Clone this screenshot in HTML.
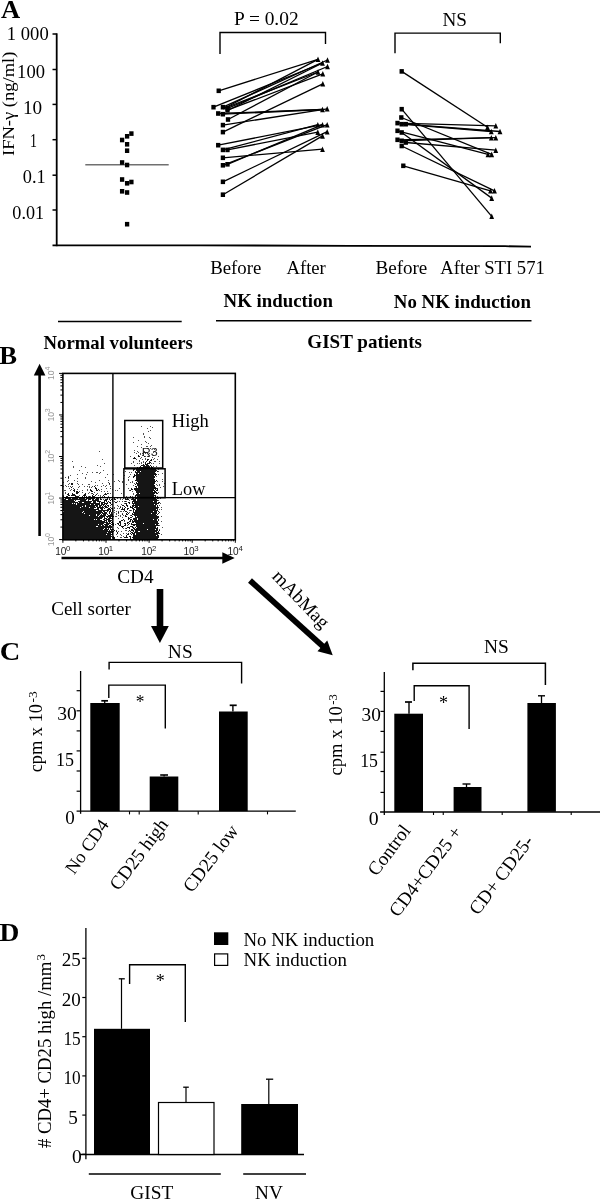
<!DOCTYPE html>
<html><head><meta charset="utf-8"><style>html,body{margin:0;padding:0;background:#fff;}svg{display:block;filter:grayscale(1);}</style></head>
<body><svg width="600" height="1200" viewBox="0 0 600 1200">
<rect width="600" height="1200" fill="#fff"/>
<text x="1.03" y="17.70" font-family="'Liberation Serif', serif" font-size="26" font-weight="bold" fill="#000" textLength="19.16" lengthAdjust="spacingAndGlyphs">A</text>
<line x1="56.70" y1="33.30" x2="56.70" y2="246.20" stroke="#000" stroke-width="1.8"/>
<polyline points="52.5,245.3 200,245.3 350,245.8 505,246.2 531,246.6" fill="none" stroke="#000" stroke-width="1.8"/>
<line x1="52.50" y1="34.00" x2="56.70" y2="34.00" stroke="#000" stroke-width="1.5"/>
<line x1="52.50" y1="69.50" x2="56.70" y2="69.50" stroke="#000" stroke-width="1.5"/>
<line x1="52.50" y1="104.40" x2="56.70" y2="104.40" stroke="#000" stroke-width="1.5"/>
<line x1="52.50" y1="139.70" x2="56.70" y2="139.70" stroke="#000" stroke-width="1.5"/>
<line x1="52.50" y1="175.20" x2="56.70" y2="175.20" stroke="#000" stroke-width="1.5"/>
<line x1="52.50" y1="210.00" x2="56.70" y2="210.00" stroke="#000" stroke-width="1.5"/>
<text x="6.87" y="39.80" font-family="'Liberation Serif', serif" font-size="18" font-weight="normal" fill="#000" textLength="41.82" lengthAdjust="spacingAndGlyphs">1 000</text>
<text x="17.13" y="77.90" font-family="'Liberation Serif', serif" font-size="18" font-weight="normal" fill="#000" textLength="27.82" lengthAdjust="spacingAndGlyphs">100</text>
<text x="22.92" y="114.40" font-family="'Liberation Serif', serif" font-size="18" font-weight="normal" fill="#000" textLength="19.20" lengthAdjust="spacingAndGlyphs">10</text>
<text x="29.88" y="146.80" font-family="'Liberation Serif', serif" font-size="18" font-weight="normal" fill="#000" textLength="6.95" lengthAdjust="spacingAndGlyphs">1</text>
<text x="22.81" y="183.10" font-family="'Liberation Serif', serif" font-size="18" font-weight="normal" fill="#000" textLength="22.89" lengthAdjust="spacingAndGlyphs">0.1</text>
<text x="12.32" y="219.00" font-family="'Liberation Serif', serif" font-size="18" font-weight="normal" fill="#000" textLength="31.77" lengthAdjust="spacingAndGlyphs">0.01</text>
<g transform="translate(14.1,155.4) rotate(-90)">
<text x="-0.65" y="0.00" font-family="'Liberation Serif', serif" font-size="17.5" font-weight="normal" fill="#000" textLength="104.45" lengthAdjust="spacingAndGlyphs">IFN-γ (ng/ml)</text>
</g>
<line x1="85.30" y1="164.70" x2="168.70" y2="164.70" stroke="#707070" stroke-width="1.6"/>
<rect x="129.25" y="131.30" width="4.30" height="4.60" fill="#000"/>
<rect x="124.95" y="134.00" width="4.30" height="4.60" fill="#000"/>
<rect x="119.95" y="137.70" width="4.30" height="4.60" fill="#000"/>
<rect x="124.95" y="142.00" width="4.30" height="4.60" fill="#000"/>
<rect x="124.95" y="148.40" width="4.30" height="4.60" fill="#000"/>
<rect x="119.95" y="160.20" width="4.30" height="4.60" fill="#000"/>
<rect x="124.95" y="162.70" width="4.30" height="4.60" fill="#000"/>
<rect x="119.95" y="177.20" width="4.30" height="4.60" fill="#000"/>
<rect x="124.95" y="181.00" width="4.30" height="4.60" fill="#000"/>
<rect x="129.25" y="179.70" width="4.30" height="4.60" fill="#000"/>
<rect x="119.95" y="189.00" width="4.30" height="4.60" fill="#000"/>
<rect x="124.95" y="190.20" width="4.30" height="4.60" fill="#000"/>
<rect x="124.95" y="221.90" width="4.30" height="4.60" fill="#000"/>
<line x1="218.70" y1="90.80" x2="318.00" y2="59.30" stroke="#000" stroke-width="1.3"/>
<line x1="213.50" y1="107.20" x2="322.50" y2="63.00" stroke="#000" stroke-width="1.3"/>
<line x1="222.90" y1="107.20" x2="327.50" y2="60.00" stroke="#000" stroke-width="1.3"/>
<line x1="227.50" y1="108.30" x2="327.50" y2="66.50" stroke="#000" stroke-width="1.3"/>
<line x1="227.50" y1="110.20" x2="322.80" y2="73.80" stroke="#000" stroke-width="1.3"/>
<line x1="218.20" y1="113.50" x2="322.50" y2="109.50" stroke="#000" stroke-width="1.3"/>
<line x1="222.90" y1="114.20" x2="322.50" y2="109.50" stroke="#000" stroke-width="1.3"/>
<line x1="228.00" y1="119.50" x2="318.00" y2="72.00" stroke="#000" stroke-width="1.3"/>
<line x1="222.90" y1="125.10" x2="327.20" y2="108.80" stroke="#000" stroke-width="1.3"/>
<line x1="222.90" y1="132.10" x2="322.80" y2="83.80" stroke="#000" stroke-width="1.3"/>
<line x1="218.20" y1="145.20" x2="322.50" y2="124.70" stroke="#000" stroke-width="1.3"/>
<line x1="222.90" y1="149.90" x2="317.80" y2="124.70" stroke="#000" stroke-width="1.3"/>
<line x1="227.50" y1="149.90" x2="317.80" y2="132.10" stroke="#000" stroke-width="1.3"/>
<line x1="222.90" y1="157.80" x2="322.50" y2="149.20" stroke="#000" stroke-width="1.3"/>
<line x1="222.90" y1="165.30" x2="327.20" y2="124.70" stroke="#000" stroke-width="1.3"/>
<line x1="227.50" y1="164.30" x2="322.50" y2="124.70" stroke="#000" stroke-width="1.3"/>
<line x1="222.90" y1="181.80" x2="327.20" y2="131.70" stroke="#000" stroke-width="1.3"/>
<line x1="222.90" y1="194.70" x2="322.50" y2="135.90" stroke="#000" stroke-width="1.3"/>
<line x1="222.90" y1="109.00" x2="318.00" y2="59.30" stroke="#000" stroke-width="1.3"/>
<line x1="227.50" y1="110.50" x2="322.50" y2="63.00" stroke="#000" stroke-width="1.3"/>
<line x1="225.00" y1="108.00" x2="318.00" y2="72.00" stroke="#000" stroke-width="1.3"/>
<rect x="216.55" y="88.50" width="4.30" height="4.60" fill="#000"/>
<rect x="211.35" y="104.90" width="4.30" height="4.60" fill="#000"/>
<rect x="220.75" y="104.90" width="4.30" height="4.60" fill="#000"/>
<rect x="225.35" y="106.00" width="4.30" height="4.60" fill="#000"/>
<rect x="225.35" y="107.90" width="4.30" height="4.60" fill="#000"/>
<rect x="216.05" y="111.20" width="4.30" height="4.60" fill="#000"/>
<rect x="220.75" y="111.90" width="4.30" height="4.60" fill="#000"/>
<rect x="225.85" y="117.20" width="4.30" height="4.60" fill="#000"/>
<rect x="220.75" y="122.80" width="4.30" height="4.60" fill="#000"/>
<rect x="220.75" y="129.80" width="4.30" height="4.60" fill="#000"/>
<rect x="216.05" y="142.90" width="4.30" height="4.60" fill="#000"/>
<rect x="220.75" y="147.60" width="4.30" height="4.60" fill="#000"/>
<rect x="225.35" y="147.60" width="4.30" height="4.60" fill="#000"/>
<rect x="220.75" y="155.50" width="4.30" height="4.60" fill="#000"/>
<rect x="220.75" y="163.00" width="4.30" height="4.60" fill="#000"/>
<rect x="225.35" y="162.00" width="4.30" height="4.60" fill="#000"/>
<rect x="220.75" y="179.50" width="4.30" height="4.60" fill="#000"/>
<rect x="220.75" y="192.40" width="4.30" height="4.60" fill="#000"/>
<polygon points="315.60,62.10 320.40,62.10 318.00,56.50" fill="#000"/>
<polygon points="325.10,62.80 329.90,62.80 327.50,57.20" fill="#000"/>
<polygon points="320.10,65.80 324.90,65.80 322.50,60.20" fill="#000"/>
<polygon points="325.10,69.30 329.90,69.30 327.50,63.70" fill="#000"/>
<polygon points="315.60,74.80 320.40,74.80 318.00,69.20" fill="#000"/>
<polygon points="320.40,76.60 325.20,76.60 322.80,71.00" fill="#000"/>
<polygon points="320.40,86.60 325.20,86.60 322.80,81.00" fill="#000"/>
<polygon points="320.10,112.30 324.90,112.30 322.50,106.70" fill="#000"/>
<polygon points="324.80,111.60 329.60,111.60 327.20,106.00" fill="#000"/>
<polygon points="315.40,127.50 320.20,127.50 317.80,121.90" fill="#000"/>
<polygon points="320.10,127.50 324.90,127.50 322.50,121.90" fill="#000"/>
<polygon points="324.80,127.50 329.60,127.50 327.20,121.90" fill="#000"/>
<polygon points="315.40,134.90 320.20,134.90 317.80,129.30" fill="#000"/>
<polygon points="324.80,134.50 329.60,134.50 327.20,128.90" fill="#000"/>
<polygon points="320.10,138.70 324.90,138.70 322.50,133.10" fill="#000"/>
<polygon points="320.10,152.00 324.90,152.00 322.50,146.40" fill="#000"/>
<line x1="401.70" y1="71.40" x2="487.50" y2="127.30" stroke="#000" stroke-width="1.3"/>
<line x1="401.70" y1="109.20" x2="491.70" y2="216.30" stroke="#000" stroke-width="1.3"/>
<line x1="401.30" y1="117.50" x2="491.70" y2="154.40" stroke="#000" stroke-width="1.3"/>
<line x1="397.50" y1="123.10" x2="495.80" y2="125.80" stroke="#000" stroke-width="1.3"/>
<line x1="401.70" y1="124.20" x2="491.30" y2="131.50" stroke="#000" stroke-width="1.3"/>
<line x1="405.80" y1="124.20" x2="500.00" y2="131.50" stroke="#000" stroke-width="1.3"/>
<line x1="397.50" y1="130.80" x2="488.00" y2="154.40" stroke="#000" stroke-width="1.3"/>
<line x1="401.70" y1="132.50" x2="491.70" y2="198.10" stroke="#000" stroke-width="1.3"/>
<line x1="397.50" y1="139.80" x2="495.80" y2="137.70" stroke="#000" stroke-width="1.3"/>
<line x1="401.70" y1="140.80" x2="491.30" y2="137.70" stroke="#000" stroke-width="1.3"/>
<line x1="405.80" y1="142.50" x2="495.80" y2="150.20" stroke="#000" stroke-width="1.3"/>
<line x1="401.70" y1="146.00" x2="494.50" y2="190.80" stroke="#000" stroke-width="1.3"/>
<line x1="403.30" y1="165.80" x2="490.50" y2="190.80" stroke="#000" stroke-width="1.3"/>
<rect x="399.55" y="69.10" width="4.30" height="4.60" fill="#000"/>
<rect x="399.55" y="106.90" width="4.30" height="4.60" fill="#000"/>
<rect x="399.15" y="115.20" width="4.30" height="4.60" fill="#000"/>
<rect x="395.35" y="120.80" width="4.30" height="4.60" fill="#000"/>
<rect x="399.55" y="121.90" width="4.30" height="4.60" fill="#000"/>
<rect x="403.65" y="121.90" width="4.30" height="4.60" fill="#000"/>
<rect x="395.35" y="128.50" width="4.30" height="4.60" fill="#000"/>
<rect x="399.55" y="130.20" width="4.30" height="4.60" fill="#000"/>
<rect x="395.35" y="137.50" width="4.30" height="4.60" fill="#000"/>
<rect x="399.55" y="138.50" width="4.30" height="4.60" fill="#000"/>
<rect x="403.65" y="140.20" width="4.30" height="4.60" fill="#000"/>
<rect x="399.55" y="143.70" width="4.30" height="4.60" fill="#000"/>
<rect x="401.15" y="163.50" width="4.30" height="4.60" fill="#000"/>
<polygon points="485.10,130.10 489.90,130.10 487.50,124.50" fill="#000"/>
<polygon points="489.30,219.10 494.10,219.10 491.70,213.50" fill="#000"/>
<polygon points="489.30,157.20 494.10,157.20 491.70,151.60" fill="#000"/>
<polygon points="493.40,128.60 498.20,128.60 495.80,123.00" fill="#000"/>
<polygon points="488.90,134.30 493.70,134.30 491.30,128.70" fill="#000"/>
<polygon points="497.60,134.30 502.40,134.30 500.00,128.70" fill="#000"/>
<polygon points="485.60,157.20 490.40,157.20 488.00,151.60" fill="#000"/>
<polygon points="489.30,200.90 494.10,200.90 491.70,195.30" fill="#000"/>
<polygon points="493.40,140.50 498.20,140.50 495.80,134.90" fill="#000"/>
<polygon points="488.90,140.50 493.70,140.50 491.30,134.90" fill="#000"/>
<polygon points="493.40,153.00 498.20,153.00 495.80,147.40" fill="#000"/>
<polygon points="492.10,193.60 496.90,193.60 494.50,188.00" fill="#000"/>
<polygon points="488.10,193.60 492.90,193.60 490.50,188.00" fill="#000"/>
<polyline points="220,54 220,32.5 325.5,32.5 325.5,44" fill="none" stroke="#000" stroke-width="1.4"/>
<polyline points="395,53.3 395,33.1 500.3,33.1 500.3,43.3" fill="none" stroke="#000" stroke-width="1.4"/>
<text x="233.97" y="25.00" font-family="'Liberation Serif', serif" font-size="19" font-weight="normal" fill="#000" textLength="64.61" lengthAdjust="spacingAndGlyphs">P = 0.02</text>
<text x="442.47" y="25.50" font-family="'Liberation Serif', serif" font-size="19" font-weight="normal" fill="#000" textLength="24.49" lengthAdjust="spacingAndGlyphs">NS</text>
<text x="210.18" y="274.30" font-family="'Liberation Serif', serif" font-size="19" font-weight="normal" fill="#000" textLength="51.14" lengthAdjust="spacingAndGlyphs">Before</text>
<text x="286.51" y="274.30" font-family="'Liberation Serif', serif" font-size="19" font-weight="normal" fill="#000" textLength="39.32" lengthAdjust="spacingAndGlyphs">After</text>
<text x="375.48" y="274.30" font-family="'Liberation Serif', serif" font-size="19" font-weight="normal" fill="#000" textLength="51.86" lengthAdjust="spacingAndGlyphs">Before</text>
<text x="440.31" y="274.30" font-family="'Liberation Serif', serif" font-size="19" font-weight="normal" fill="#000" textLength="104.50" lengthAdjust="spacingAndGlyphs">After STI 571</text>
<text x="223.62" y="307.30" font-family="'Liberation Serif', serif" font-size="18.8" font-weight="bold" fill="#000" textLength="109.36" lengthAdjust="spacingAndGlyphs">NK induction</text>
<text x="393.82" y="308.30" font-family="'Liberation Serif', serif" font-size="18.8" font-weight="bold" fill="#000" textLength="137.15" lengthAdjust="spacingAndGlyphs">No NK induction</text>
<line x1="58.00" y1="321.50" x2="181.70" y2="321.50" stroke="#000" stroke-width="1.4"/>
<line x1="216.00" y1="320.80" x2="531.50" y2="320.80" stroke="#000" stroke-width="1.4"/>
<text x="43.53" y="348.70" font-family="'Liberation Serif', serif" font-size="18.8" font-weight="bold" fill="#000" textLength="149.31" lengthAdjust="spacingAndGlyphs">Normal volunteers</text>
<text x="307.39" y="348.30" font-family="'Liberation Serif', serif" font-size="18.8" font-weight="bold" fill="#000" textLength="114.56" lengthAdjust="spacingAndGlyphs">GIST patients</text>
<text x="-0.77" y="364.10" font-family="'Liberation Serif', serif" font-size="26" font-weight="bold" fill="#000" textLength="17.79" lengthAdjust="spacingAndGlyphs">B</text>
<line x1="39.60" y1="374.00" x2="39.60" y2="536.00" stroke="#000" stroke-width="2.6"/>
<polygon points="33.80,375.40 45.40,375.40 39.60,363.80" fill="#000"/>
<line x1="61.50" y1="558.00" x2="223.00" y2="558.00" stroke="#000" stroke-width="2.7"/>
<polygon points="222.30,552.30 222.30,563.70 234.70,558.00" fill="#000"/>
<path d="M141 426h1v1h-1zM150 426h1v1h-1zM152 427h1v1h-1zM147 428h1v1h-1zM150 430h1v1h-1zM148 431h1v1h-1zM143 433h1v1h-1zM143 434h1v1h-1zM144 436h1v1h-1zM133 437h1v1h-1zM144 437h1v1h-1zM149 437h1v1h-1zM150 438h1v1h-1zM138 440h1v1h-1zM145 441h1v1h-1zM133 442h1v1h-1zM146 442h1v1h-1zM148 443h1v1h-1zM141 444h1v1h-1zM151 445h1v1h-1zM137 446h1v1h-1zM146 446h2v1h-2zM150 446h1v1h-1zM141 447h1v1h-1zM147 448h2v1h-2zM150 448h1v1h-1zM155 448h1v1h-1zM154 449h1v1h-1zM134 450h1v1h-1zM99 451h1v1h-1zM137 451h1v1h-1zM144 451h1v1h-1zM134 452h1v1h-1zM138 452h1v1h-1zM153 452h1v1h-1zM156 452h1v1h-1zM136 453h1v1h-1zM140 453h1v1h-1zM142 453h1v1h-1zM145 453h1v1h-1zM149 453h1v1h-1zM140 454h1v1h-1zM148 454h1v1h-1zM142 455h1v1h-1zM130 456h1v1h-1zM145 456h1v1h-1zM147 456h1v1h-1zM149 456h1v1h-1zM158 456h1v1h-1zM141 457h1v1h-1zM152 457h1v1h-1zM140 458h1v1h-1zM145 458h1v1h-1zM154 458h1v1h-1zM102 459h1v1h-1zM136 459h1v1h-1zM142 459h1v1h-1zM145 459h1v1h-1zM153 459h1v1h-1zM157 459h1v1h-1zM139 460h1v1h-1zM72 461h1v1h-1zM133 461h1v1h-1zM139 461h1v1h-1zM143 461h1v1h-1zM154 461h2v1h-2zM159 461h1v1h-1zM133 462h1v1h-1zM141 462h1v1h-1zM143 462h1v1h-1zM104 463h1v1h-1zM131 463h1v1h-1zM137 463h1v1h-1zM139 463h1v1h-1zM141 463h1v1h-1zM151 463h1v1h-1zM153 463h1v1h-1zM159 463h1v1h-1zM97 465h1v1h-1zM134 465h1v1h-1zM73 466h1v1h-1zM81 466h1v1h-1zM100 466h1v1h-1zM153 466h1v1h-1zM156 466h1v1h-1zM73 467h1v1h-1zM85 467h1v1h-1zM125 468h1v1h-1zM158 468h1v1h-1zM158 469h1v1h-1zM79 470h1v1h-1zM103 470h1v1h-1zM125 471h1v1h-1zM158 471h1v1h-1zM87 472h1v1h-1zM92 472h1v1h-1zM96 472h2v1h-2zM100 472h1v1h-1zM123 472h1v1h-1zM129 472h1v1h-1zM131 472h1v1h-1zM82 473h1v1h-1zM99 473h1v1h-1zM162 473h1v1h-1zM77 474h1v1h-1zM86 474h1v1h-1zM107 474h1v1h-1zM113 474h1v1h-1zM130 474h1v1h-1zM158 474h1v1h-1zM70 475h1v1h-1zM124 475h1v1h-1zM68 476h1v1h-1zM129 476h1v1h-1zM156 476h1v1h-1zM65 477h1v1h-1zM85 477h1v1h-1zM105 477h1v1h-1zM128 477h1v1h-1zM68 478h1v1h-1zM77 478h1v1h-1zM85 478h1v1h-1zM123 478h1v1h-1zM128 479h1v1h-1zM162 479h1v1h-1zM68 480h1v1h-1zM74 480h1v1h-1zM99 480h1v1h-1zM108 480h1v1h-1zM118 480h1v1h-1zM128 480h1v1h-1zM67 481h1v1h-1zM77 481h1v1h-1zM91 481h1v1h-1zM114 481h1v1h-1zM119 481h1v1h-1zM122 481h1v1h-1zM132 481h1v1h-1zM157 481h1v1h-1zM162 481h1v1h-1zM63 482h1v1h-1zM95 482h1v1h-1zM108 482h1v1h-1zM122 482h1v1h-1zM130 482h1v1h-1zM132 482h1v1h-1zM69 483h1v1h-1zM77 483h1v1h-1zM102 483h1v1h-1zM134 483h1v1h-1zM164 483h1v1h-1zM68 484h1v1h-1zM78 484h1v1h-1zM82 484h1v1h-1zM88 484h2v1h-2zM109 484h1v1h-1zM126 484h1v1h-1zM156 484h1v1h-1zM159 484h1v1h-1zM65 485h1v1h-1zM95 485h1v1h-1zM97 485h1v1h-1zM103 485h1v1h-1zM106 485h1v1h-1zM133 485h1v1h-1zM157 485h1v1h-1zM159 485h1v1h-1zM63 486h1v1h-1zM66 486h1v1h-1zM68 486h1v1h-1zM70 486h1v1h-1zM72 486h1v1h-1zM79 486h1v1h-1zM84 486h1v1h-1zM87 486h1v1h-1zM89 486h1v1h-1zM92 486h1v1h-1zM101 486h1v1h-1zM105 486h1v1h-1zM110 486h1v1h-1zM163 486h1v1h-1zM78 487h1v1h-1zM89 487h1v1h-1zM91 487h1v1h-1zM160 487h1v1h-1zM69 488h1v1h-1zM73 488h1v1h-1zM106 488h1v1h-1zM110 488h1v1h-1zM119 488h1v1h-1zM128 488h1v1h-1zM71 489h1v1h-1zM77 489h1v1h-1zM87 489h1v1h-1zM101 489h1v1h-1zM112 489h1v1h-1zM64 490h2v1h-2zM70 490h1v1h-1zM82 490h1v1h-1zM87 490h1v1h-1zM99 490h1v1h-1zM115 490h1v1h-1zM117 490h1v1h-1zM129 490h1v1h-1zM79 491h1v1h-1zM101 491h1v1h-1zM104 491h1v1h-1zM107 491h1v1h-1zM132 491h1v1h-1zM65 492h1v1h-1zM82 492h1v1h-1zM89 492h1v1h-1zM94 492h1v1h-1zM158 492h1v1h-1zM65 493h1v1h-1zM88 493h1v1h-1zM91 493h1v1h-1zM97 493h1v1h-1zM108 493h1v1h-1zM110 493h1v1h-1zM121 493h1v1h-1zM133 493h1v1h-1zM133 494h1v1h-1zM63 495h1v1h-1zM79 495h1v1h-1zM98 495h1v1h-1zM100 495h1v1h-1zM88 496h1v1h-1zM90 496h1v1h-1zM100 496h1v1h-1zM102 496h1v1h-1zM108 496h1v1h-1zM112 496h1v1h-1zM126 496h1v1h-1zM132 496h1v1h-1zM157 496h1v1h-1zM104 497h1v1h-1zM109 498h1v1h-1zM117 498h1v1h-1zM120 498h1v1h-1zM123 498h1v1h-1zM158 498h1v1h-1zM160 498h1v1h-1zM103 499h1v1h-1zM120 499h1v1h-1zM122 499h1v1h-1zM129 500h1v1h-1zM158 500h1v1h-1zM112 501h1v1h-1zM114 501h1v1h-1zM117 501h1v1h-1zM119 501h1v1h-1zM122 501h1v1h-1zM124 501h1v1h-1zM126 501h1v1h-1zM124 503h1v1h-1zM160 503h1v1h-1zM112 504h1v1h-1zM121 504h1v1h-1zM110 505h1v1h-1zM117 505h1v1h-1zM159 505h1v1h-1zM118 506h1v1h-1zM120 506h1v1h-1zM114 507h1v1h-1zM122 507h1v1h-1zM161 507h1v1h-1zM114 508h1v1h-1zM117 508h1v1h-1zM119 508h1v1h-1zM159 509h1v1h-1zM161 509h1v1h-1zM114 510h1v1h-1zM129 510h1v1h-1zM131 510h1v1h-1zM116 511h1v1h-1zM118 511h1v1h-1zM120 511h2v1h-2zM123 511h1v1h-1zM114 512h1v1h-1zM129 512h1v1h-1zM116 513h1v1h-1zM118 513h1v1h-1zM122 513h1v1h-1zM116 514h1v1h-1zM118 515h1v1h-1zM120 515h1v1h-1zM123 515h1v1h-1zM130 515h1v1h-1zM115 516h2v1h-2zM120 516h1v1h-1zM161 516h1v1h-1zM122 517h1v1h-1zM118 518h1v1h-1zM124 521h1v1h-1zM161 521h1v1h-1zM115 524h1v1h-1zM127 525h1v1h-1zM159 525h1v1h-1zM117 527h1v1h-1zM162 527h1v1h-1zM118 528h1v1h-1zM123 528h1v1h-1zM125 528h1v1h-1zM159 529h1v1h-1zM116 530h1v1h-1zM125 530h2v1h-2zM118 531h1v1h-1zM121 531h1v1h-1zM128 531h1v1h-1zM123 533h1v1h-1zM126 533h1v1h-1zM116 534h1v1h-1zM120 534h1v1h-1zM161 534h1v1h-1zM121 535h1v1h-1zM117 536h1v1h-1zM123 536h1v1h-1zM120 537h2v1h-2zM120 539h1v1h-1zM128 539h1v1h-1zM164 539h1v1h-1z" fill="#505050"/><path d="M138 455h1v1h-1zM143 455h1v1h-1zM138 456h2v1h-2zM144 456h1v1h-1zM148 456h1v1h-1zM134 457h1v1h-1zM133 458h3v1h-3zM147 459h2v1h-2zM151 459h1v1h-1zM147 460h1v1h-1zM150 460h2v1h-2zM146 461h1v1h-1zM149 461h1v1h-1zM145 462h1v1h-1zM149 462h2v1h-2zM145 463h1v1h-1zM147 463h3v1h-3zM143 464h1v1h-1zM145 464h3v1h-3zM141 465h4v1h-4zM146 465h3v1h-3zM150 465h1v1h-1zM140 466h1v1h-1zM143 466h7v1h-7zM151 466h1v1h-1zM137 467h1v1h-1zM139 467h11v1h-11zM151 467h2v1h-2zM135 468h3v1h-3zM139 468h16v1h-16zM133 469h2v1h-2zM136 469h20v1h-20zM133 470h1v1h-1zM136 470h21v1h-21zM135 471h1v1h-1zM137 471h3v1h-3zM141 471h15v1h-15zM157 471h1v1h-1zM135 472h20v1h-20zM136 473h2v1h-2zM139 473h17v1h-17zM134 474h1v1h-1zM136 474h21v1h-21zM134 475h20v1h-20zM155 475h1v1h-1zM133 476h2v1h-2zM136 476h19v1h-19zM68 477h1v1h-1zM133 477h1v1h-1zM136 477h19v1h-19zM136 478h18v1h-18zM136 479h19v1h-19zM135 480h20v1h-20zM156 480h1v1h-1zM137 481h19v1h-19zM136 482h1v1h-1zM138 482h17v1h-17zM71 483h2v1h-2zM109 483h1v1h-1zM136 483h19v1h-19zM71 484h2v1h-2zM135 484h1v1h-1zM137 484h17v1h-17zM137 485h18v1h-18zM94 486h1v1h-1zM135 486h2v1h-2zM138 486h17v1h-17zM71 487h1v1h-1zM95 487h1v1h-1zM136 487h1v1h-1zM138 487h18v1h-18zM95 488h2v1h-2zM131 488h1v1h-1zM134 488h24v1h-24zM74 489h1v1h-1zM90 489h1v1h-1zM96 489h1v1h-1zM98 489h1v1h-1zM131 489h2v1h-2zM134 489h20v1h-20zM155 489h1v1h-1zM157 489h1v1h-1zM73 490h2v1h-2zM90 490h2v1h-2zM96 490h2v1h-2zM130 490h1v1h-1zM135 490h20v1h-20zM156 490h2v1h-2zM74 491h1v1h-1zM76 491h2v1h-2zM91 491h2v1h-2zM136 491h17v1h-17zM154 491h2v1h-2zM76 492h3v1h-3zM136 492h21v1h-21zM68 493h1v1h-1zM72 493h1v1h-1zM76 493h2v1h-2zM85 493h1v1h-1zM92 493h1v1h-1zM105 493h1v1h-1zM107 493h1v1h-1zM137 493h2v1h-2zM140 493h15v1h-15zM156 493h2v1h-2zM67 494h2v1h-2zM72 494h3v1h-3zM84 494h2v1h-2zM93 494h1v1h-1zM96 494h1v1h-1zM104 494h3v1h-3zM136 494h18v1h-18zM68 495h2v1h-2zM71 495h5v1h-5zM83 495h3v1h-3zM92 495h1v1h-1zM95 495h1v1h-1zM103 495h1v1h-1zM135 495h21v1h-21zM63 496h1v1h-1zM66 496h2v1h-2zM75 496h4v1h-4zM82 496h1v1h-1zM84 496h1v1h-1zM86 496h1v1h-1zM89 496h1v1h-1zM92 496h3v1h-3zM104 496h1v1h-1zM130 496h1v1h-1zM135 496h1v1h-1zM137 496h17v1h-17zM155 496h1v1h-1zM63 497h2v1h-2zM66 497h1v1h-1zM70 497h1v1h-1zM74 497h2v1h-2zM77 497h2v1h-2zM81 497h1v1h-1zM86 497h1v1h-1zM112 497h1v1h-1zM129 497h3v1h-3zM135 497h21v1h-21zM63 498h1v1h-1zM65 498h6v1h-6zM72 498h6v1h-6zM79 498h6v1h-6zM86 498h9v1h-9zM96 498h3v1h-3zM100 498h1v1h-1zM107 498h1v1h-1zM112 498h1v1h-1zM114 498h1v1h-1zM125 498h1v1h-1zM127 498h1v1h-1zM132 498h2v1h-2zM135 498h21v1h-21zM157 498h1v1h-1zM63 499h3v1h-3zM68 499h19v1h-19zM88 499h3v1h-3zM92 499h2v1h-2zM95 499h4v1h-4zM100 499h2v1h-2zM105 499h3v1h-3zM109 499h1v1h-1zM111 499h2v1h-2zM114 499h2v1h-2zM125 499h4v1h-4zM131 499h5v1h-5zM137 499h20v1h-20zM63 500h11v1h-11zM75 500h1v1h-1zM80 500h6v1h-6zM88 500h1v1h-1zM92 500h7v1h-7zM104 500h3v1h-3zM110 500h1v1h-1zM112 500h1v1h-1zM133 500h3v1h-3zM137 500h21v1h-21zM63 501h12v1h-12zM78 501h14v1h-14zM93 501h3v1h-3zM97 501h4v1h-4zM104 501h1v1h-1zM106 501h1v1h-1zM108 501h1v1h-1zM125 501h1v1h-1zM132 501h21v1h-21zM154 501h3v1h-3zM63 502h15v1h-15zM79 502h3v1h-3zM84 502h7v1h-7zM93 502h3v1h-3zM99 502h1v1h-1zM101 502h4v1h-4zM107 502h1v1h-1zM109 502h2v1h-2zM115 502h2v1h-2zM128 502h2v1h-2zM132 502h1v1h-1zM134 502h23v1h-23zM158 502h2v1h-2zM63 503h9v1h-9zM73 503h1v1h-1zM75 503h1v1h-1zM77 503h23v1h-23zM101 503h2v1h-2zM104 503h4v1h-4zM110 503h1v1h-1zM125 503h2v1h-2zM129 503h1v1h-1zM132 503h27v1h-27zM63 504h13v1h-13zM77 504h13v1h-13zM91 504h3v1h-3zM95 504h5v1h-5zM101 504h4v1h-4zM106 504h1v1h-1zM111 504h1v1h-1zM126 504h1v1h-1zM133 504h1v1h-1zM135 504h19v1h-19zM155 504h2v1h-2zM63 505h22v1h-22zM86 505h12v1h-12zM99 505h3v1h-3zM103 505h1v1h-1zM105 505h1v1h-1zM107 505h2v1h-2zM122 505h2v1h-2zM126 505h2v1h-2zM132 505h24v1h-24zM157 505h1v1h-1zM63 506h19v1h-19zM83 506h2v1h-2zM86 506h9v1h-9zM96 506h2v1h-2zM99 506h2v1h-2zM102 506h1v1h-1zM104 506h3v1h-3zM108 506h1v1h-1zM124 506h1v1h-1zM127 506h1v1h-1zM130 506h1v1h-1zM132 506h2v1h-2zM135 506h3v1h-3zM139 506h17v1h-17zM157 506h1v1h-1zM63 507h17v1h-17zM81 507h8v1h-8zM90 507h6v1h-6zM97 507h7v1h-7zM105 507h3v1h-3zM110 507h1v1h-1zM120 507h1v1h-1zM125 507h1v1h-1zM130 507h3v1h-3zM134 507h25v1h-25zM63 508h31v1h-31zM97 508h2v1h-2zM100 508h3v1h-3zM104 508h1v1h-1zM108 508h2v1h-2zM111 508h2v1h-2zM122 508h1v1h-1zM124 508h1v1h-1zM127 508h2v1h-2zM132 508h2v1h-2zM136 508h22v1h-22zM63 509h36v1h-36zM101 509h2v1h-2zM107 509h4v1h-4zM112 509h1v1h-1zM121 509h4v1h-4zM127 509h1v1h-1zM133 509h2v1h-2zM136 509h20v1h-20zM157 509h1v1h-1zM63 510h33v1h-33zM98 510h11v1h-11zM110 510h1v1h-1zM112 510h1v1h-1zM124 510h1v1h-1zM130 510h1v1h-1zM133 510h1v1h-1zM135 510h23v1h-23zM64 511h19v1h-19zM84 511h18v1h-18zM103 511h2v1h-2zM107 511h1v1h-1zM109 511h2v1h-2zM112 511h1v1h-1zM125 511h2v1h-2zM133 511h1v1h-1zM135 511h18v1h-18zM154 511h3v1h-3zM158 511h1v1h-1zM63 512h19v1h-19zM83 512h20v1h-20zM104 512h3v1h-3zM109 512h1v1h-1zM111 512h1v1h-1zM118 512h1v1h-1zM127 512h1v1h-1zM133 512h24v1h-24zM159 512h1v1h-1zM63 513h21v1h-21zM85 513h16v1h-16zM102 513h5v1h-5zM109 513h1v1h-1zM111 513h1v1h-1zM126 513h1v1h-1zM128 513h1v1h-1zM132 513h1v1h-1zM134 513h17v1h-17zM152 513h5v1h-5zM158 513h1v1h-1zM63 514h33v1h-33zM97 514h3v1h-3zM101 514h1v1h-1zM103 514h3v1h-3zM107 514h1v1h-1zM110 514h3v1h-3zM122 514h1v1h-1zM126 514h2v1h-2zM132 514h24v1h-24zM157 514h1v1h-1zM63 515h26v1h-26zM90 515h6v1h-6zM97 515h2v1h-2zM100 515h6v1h-6zM108 515h5v1h-5zM125 515h1v1h-1zM131 515h1v1h-1zM134 515h23v1h-23zM63 516h35v1h-35zM99 516h6v1h-6zM106 516h8v1h-8zM125 516h2v1h-2zM132 516h1v1h-1zM135 516h1v1h-1zM137 516h22v1h-22zM63 517h40v1h-40zM104 517h1v1h-1zM107 517h1v1h-1zM109 517h2v1h-2zM112 517h1v1h-1zM128 517h1v1h-1zM130 517h2v1h-2zM135 517h24v1h-24zM63 518h39v1h-39zM104 518h3v1h-3zM108 518h5v1h-5zM128 518h2v1h-2zM133 518h4v1h-4zM138 518h20v1h-20zM63 519h31v1h-31zM95 519h1v1h-1zM97 519h3v1h-3zM103 519h2v1h-2zM106 519h4v1h-4zM112 519h1v1h-1zM123 519h1v1h-1zM128 519h1v1h-1zM130 519h2v1h-2zM133 519h4v1h-4zM138 519h15v1h-15zM154 519h3v1h-3zM158 519h1v1h-1zM63 520h39v1h-39zM104 520h3v1h-3zM108 520h4v1h-4zM121 520h2v1h-2zM124 520h1v1h-1zM130 520h1v1h-1zM132 520h1v1h-1zM134 520h23v1h-23zM158 520h1v1h-1zM63 521h42v1h-42zM106 521h1v1h-1zM108 521h3v1h-3zM112 521h1v1h-1zM119 521h2v1h-2zM129 521h2v1h-2zM132 521h26v1h-26zM63 522h45v1h-45zM109 522h1v1h-1zM111 522h2v1h-2zM119 522h2v1h-2zM127 522h2v1h-2zM132 522h2v1h-2zM135 522h23v1h-23zM63 523h41v1h-41zM106 523h5v1h-5zM112 523h2v1h-2zM117 523h2v1h-2zM120 523h1v1h-1zM124 523h2v1h-2zM127 523h1v1h-1zM129 523h1v1h-1zM131 523h1v1h-1zM136 523h7v1h-7zM144 523h15v1h-15zM63 524h35v1h-35zM99 524h4v1h-4zM104 524h5v1h-5zM111 524h3v1h-3zM118 524h1v1h-1zM120 524h1v1h-1zM125 524h1v1h-1zM128 524h1v1h-1zM131 524h24v1h-24zM156 524h2v1h-2zM63 525h38v1h-38zM102 525h2v1h-2zM105 525h3v1h-3zM109 525h2v1h-2zM113 525h1v1h-1zM119 525h2v1h-2zM124 525h2v1h-2zM133 525h2v1h-2zM136 525h23v1h-23zM63 526h33v1h-33zM98 526h14v1h-14zM121 526h3v1h-3zM130 526h3v1h-3zM136 526h20v1h-20zM63 527h49v1h-49zM122 527h1v1h-1zM127 527h3v1h-3zM132 527h2v1h-2zM135 527h1v1h-1zM137 527h19v1h-19zM157 527h1v1h-1zM63 528h41v1h-41zM105 528h2v1h-2zM108 528h1v1h-1zM110 528h1v1h-1zM126 528h1v1h-1zM129 528h1v1h-1zM133 528h2v1h-2zM136 528h22v1h-22zM63 529h40v1h-40zM104 529h5v1h-5zM110 529h4v1h-4zM131 529h2v1h-2zM134 529h13v1h-13zM148 529h7v1h-7zM156 529h2v1h-2zM63 530h45v1h-45zM109 530h1v1h-1zM111 530h1v1h-1zM114 530h1v1h-1zM129 530h1v1h-1zM131 530h3v1h-3zM135 530h23v1h-23zM159 530h1v1h-1zM63 531h51v1h-51zM116 531h1v1h-1zM130 531h1v1h-1zM133 531h1v1h-1zM135 531h3v1h-3zM140 531h17v1h-17zM158 531h1v1h-1zM63 532h44v1h-44zM108 532h5v1h-5zM117 532h1v1h-1zM131 532h2v1h-2zM134 532h21v1h-21zM156 532h3v1h-3zM63 533h48v1h-48zM112 533h1v1h-1zM117 533h1v1h-1zM128 533h1v1h-1zM130 533h1v1h-1zM132 533h3v1h-3zM136 533h24v1h-24zM63 534h43v1h-43zM107 534h6v1h-6zM127 534h2v1h-2zM131 534h1v1h-1zM133 534h2v1h-2zM136 534h22v1h-22zM63 535h48v1h-48zM126 535h1v1h-1zM133 535h23v1h-23zM157 535h2v1h-2zM63 536h49v1h-49zM113 536h1v1h-1zM126 536h1v1h-1zM129 536h2v1h-2zM133 536h26v1h-26zM63 537h48v1h-48zM112 537h3v1h-3zM124 537h4v1h-4zM130 537h1v1h-1zM132 537h27v1h-27zM63 538h48v1h-48zM113 538h2v1h-2zM130 538h1v1h-1zM133 538h25v1h-25zM63 539h50v1h-50zM129 539h4v1h-4zM134 539h1v1h-1zM137 539h19v1h-19zM157 539h1v1h-1z" fill="#151515"/>
<rect x="62.9" y="373.4" width="172.4" height="166.4" fill="none" stroke="#000" stroke-width="1.6"/>
<line x1="112.90" y1="373.40" x2="112.90" y2="539.60" stroke="#000" stroke-width="1.4"/>
<line x1="62.90" y1="497.60" x2="235.30" y2="497.60" stroke="#000" stroke-width="1.4"/>
<rect x="124.8" y="420.5" width="37.9" height="47.5" fill="none" stroke="#000" stroke-width="1.5"/>
<rect x="123.9" y="468.8" width="41.2" height="28.8" fill="none" stroke="#000" stroke-width="1.5"/>
<text x="171.79" y="427.10" font-family="'Liberation Serif', serif" font-size="19" font-weight="normal" fill="#000" textLength="37.04" lengthAdjust="spacingAndGlyphs">High</text>
<text x="171.80" y="494.60" font-family="'Liberation Serif', serif" font-size="19" font-weight="normal" fill="#000" textLength="33.61" lengthAdjust="spacingAndGlyphs">Low</text>
<text x="141.76" y="455.60" font-family="'Liberation Sans', sans-serif" font-size="10" font-weight="normal" fill="#222" textLength="16.08" lengthAdjust="spacingAndGlyphs">R3</text>
<line x1="62.90" y1="539.60" x2="62.90" y2="542.80" stroke="#000" stroke-width="1"/>
<line x1="75.87" y1="539.60" x2="75.87" y2="541.40" stroke="#000" stroke-width="1"/>
<line x1="83.46" y1="539.60" x2="83.46" y2="541.40" stroke="#000" stroke-width="1"/>
<line x1="88.85" y1="539.60" x2="88.85" y2="541.40" stroke="#000" stroke-width="1"/>
<line x1="93.03" y1="539.60" x2="93.03" y2="541.40" stroke="#000" stroke-width="1"/>
<line x1="96.44" y1="539.60" x2="96.44" y2="541.40" stroke="#000" stroke-width="1"/>
<line x1="99.32" y1="539.60" x2="99.32" y2="541.40" stroke="#000" stroke-width="1"/>
<line x1="101.82" y1="539.60" x2="101.82" y2="541.40" stroke="#000" stroke-width="1"/>
<line x1="104.03" y1="539.60" x2="104.03" y2="541.40" stroke="#000" stroke-width="1"/>
<line x1="106.00" y1="539.60" x2="106.00" y2="542.80" stroke="#000" stroke-width="1"/>
<line x1="118.97" y1="539.60" x2="118.97" y2="541.40" stroke="#000" stroke-width="1"/>
<line x1="126.56" y1="539.60" x2="126.56" y2="541.40" stroke="#000" stroke-width="1"/>
<line x1="131.95" y1="539.60" x2="131.95" y2="541.40" stroke="#000" stroke-width="1"/>
<line x1="136.13" y1="539.60" x2="136.13" y2="541.40" stroke="#000" stroke-width="1"/>
<line x1="139.54" y1="539.60" x2="139.54" y2="541.40" stroke="#000" stroke-width="1"/>
<line x1="142.42" y1="539.60" x2="142.42" y2="541.40" stroke="#000" stroke-width="1"/>
<line x1="144.92" y1="539.60" x2="144.92" y2="541.40" stroke="#000" stroke-width="1"/>
<line x1="147.13" y1="539.60" x2="147.13" y2="541.40" stroke="#000" stroke-width="1"/>
<line x1="149.10" y1="539.60" x2="149.10" y2="542.80" stroke="#000" stroke-width="1"/>
<line x1="162.07" y1="539.60" x2="162.07" y2="541.40" stroke="#000" stroke-width="1"/>
<line x1="169.66" y1="539.60" x2="169.66" y2="541.40" stroke="#000" stroke-width="1"/>
<line x1="175.05" y1="539.60" x2="175.05" y2="541.40" stroke="#000" stroke-width="1"/>
<line x1="179.23" y1="539.60" x2="179.23" y2="541.40" stroke="#000" stroke-width="1"/>
<line x1="182.64" y1="539.60" x2="182.64" y2="541.40" stroke="#000" stroke-width="1"/>
<line x1="185.52" y1="539.60" x2="185.52" y2="541.40" stroke="#000" stroke-width="1"/>
<line x1="188.02" y1="539.60" x2="188.02" y2="541.40" stroke="#000" stroke-width="1"/>
<line x1="190.23" y1="539.60" x2="190.23" y2="541.40" stroke="#000" stroke-width="1"/>
<line x1="192.20" y1="539.60" x2="192.20" y2="542.80" stroke="#000" stroke-width="1"/>
<line x1="205.17" y1="539.60" x2="205.17" y2="541.40" stroke="#000" stroke-width="1"/>
<line x1="212.76" y1="539.60" x2="212.76" y2="541.40" stroke="#000" stroke-width="1"/>
<line x1="218.15" y1="539.60" x2="218.15" y2="541.40" stroke="#000" stroke-width="1"/>
<line x1="222.33" y1="539.60" x2="222.33" y2="541.40" stroke="#000" stroke-width="1"/>
<line x1="225.74" y1="539.60" x2="225.74" y2="541.40" stroke="#000" stroke-width="1"/>
<line x1="228.62" y1="539.60" x2="228.62" y2="541.40" stroke="#000" stroke-width="1"/>
<line x1="231.12" y1="539.60" x2="231.12" y2="541.40" stroke="#000" stroke-width="1"/>
<line x1="233.33" y1="539.60" x2="233.33" y2="541.40" stroke="#000" stroke-width="1"/>
<line x1="235.30" y1="539.60" x2="235.30" y2="542.80" stroke="#000" stroke-width="1"/>
<line x1="59.10" y1="539.60" x2="62.90" y2="539.60" stroke="#000" stroke-width="1"/>
<line x1="60.40" y1="527.09" x2="62.90" y2="527.09" stroke="#000" stroke-width="1"/>
<line x1="60.40" y1="519.78" x2="62.90" y2="519.78" stroke="#000" stroke-width="1"/>
<line x1="60.40" y1="514.58" x2="62.90" y2="514.58" stroke="#000" stroke-width="1"/>
<line x1="60.40" y1="510.56" x2="62.90" y2="510.56" stroke="#000" stroke-width="1"/>
<line x1="60.40" y1="507.27" x2="62.90" y2="507.27" stroke="#000" stroke-width="1"/>
<line x1="60.40" y1="504.49" x2="62.90" y2="504.49" stroke="#000" stroke-width="1"/>
<line x1="60.40" y1="502.08" x2="62.90" y2="502.08" stroke="#000" stroke-width="1"/>
<line x1="60.40" y1="499.95" x2="62.90" y2="499.95" stroke="#000" stroke-width="1"/>
<line x1="59.10" y1="498.05" x2="62.90" y2="498.05" stroke="#000" stroke-width="1"/>
<line x1="60.40" y1="485.54" x2="62.90" y2="485.54" stroke="#000" stroke-width="1"/>
<line x1="60.40" y1="478.23" x2="62.90" y2="478.23" stroke="#000" stroke-width="1"/>
<line x1="60.40" y1="473.03" x2="62.90" y2="473.03" stroke="#000" stroke-width="1"/>
<line x1="60.40" y1="469.01" x2="62.90" y2="469.01" stroke="#000" stroke-width="1"/>
<line x1="60.40" y1="465.72" x2="62.90" y2="465.72" stroke="#000" stroke-width="1"/>
<line x1="60.40" y1="462.94" x2="62.90" y2="462.94" stroke="#000" stroke-width="1"/>
<line x1="60.40" y1="460.53" x2="62.90" y2="460.53" stroke="#000" stroke-width="1"/>
<line x1="60.40" y1="458.40" x2="62.90" y2="458.40" stroke="#000" stroke-width="1"/>
<line x1="59.10" y1="456.50" x2="62.90" y2="456.50" stroke="#000" stroke-width="1"/>
<line x1="60.40" y1="443.99" x2="62.90" y2="443.99" stroke="#000" stroke-width="1"/>
<line x1="60.40" y1="436.68" x2="62.90" y2="436.68" stroke="#000" stroke-width="1"/>
<line x1="60.40" y1="431.48" x2="62.90" y2="431.48" stroke="#000" stroke-width="1"/>
<line x1="60.40" y1="427.46" x2="62.90" y2="427.46" stroke="#000" stroke-width="1"/>
<line x1="60.40" y1="424.17" x2="62.90" y2="424.17" stroke="#000" stroke-width="1"/>
<line x1="60.40" y1="421.39" x2="62.90" y2="421.39" stroke="#000" stroke-width="1"/>
<line x1="60.40" y1="418.98" x2="62.90" y2="418.98" stroke="#000" stroke-width="1"/>
<line x1="60.40" y1="416.85" x2="62.90" y2="416.85" stroke="#000" stroke-width="1"/>
<line x1="59.10" y1="414.95" x2="62.90" y2="414.95" stroke="#000" stroke-width="1"/>
<line x1="60.40" y1="402.44" x2="62.90" y2="402.44" stroke="#000" stroke-width="1"/>
<line x1="60.40" y1="395.13" x2="62.90" y2="395.13" stroke="#000" stroke-width="1"/>
<line x1="60.40" y1="389.93" x2="62.90" y2="389.93" stroke="#000" stroke-width="1"/>
<line x1="60.40" y1="385.91" x2="62.90" y2="385.91" stroke="#000" stroke-width="1"/>
<line x1="60.40" y1="382.62" x2="62.90" y2="382.62" stroke="#000" stroke-width="1"/>
<line x1="60.40" y1="379.84" x2="62.90" y2="379.84" stroke="#000" stroke-width="1"/>
<line x1="60.40" y1="377.43" x2="62.90" y2="377.43" stroke="#000" stroke-width="1"/>
<line x1="60.40" y1="375.30" x2="62.90" y2="375.30" stroke="#000" stroke-width="1"/>
<line x1="59.10" y1="373.40" x2="62.90" y2="373.40" stroke="#000" stroke-width="1"/>
<text x="55.15" y="555.00" font-family="'Liberation Sans', sans-serif" font-size="10" font-weight="normal" fill="#1a1a1a" textLength="11.15" lengthAdjust="spacingAndGlyphs">10</text>
<text x="65.89" y="550.50" font-family="'Liberation Sans', sans-serif" font-size="7.8" font-weight="normal" fill="#1a1a1a">0</text>
<text x="98.25" y="555.00" font-family="'Liberation Sans', sans-serif" font-size="10" font-weight="normal" fill="#1a1a1a" textLength="11.15" lengthAdjust="spacingAndGlyphs">10</text>
<text x="108.72" y="550.50" font-family="'Liberation Sans', sans-serif" font-size="7.8" font-weight="normal" fill="#1a1a1a">1</text>
<text x="141.25" y="555.00" font-family="'Liberation Sans', sans-serif" font-size="10" font-weight="normal" fill="#1a1a1a" textLength="11.15" lengthAdjust="spacingAndGlyphs">10</text>
<text x="151.91" y="550.50" font-family="'Liberation Sans', sans-serif" font-size="7.8" font-weight="normal" fill="#1a1a1a">2</text>
<text x="183.55" y="555.00" font-family="'Liberation Sans', sans-serif" font-size="10" font-weight="normal" fill="#1a1a1a" textLength="11.15" lengthAdjust="spacingAndGlyphs">10</text>
<text x="194.31" y="550.50" font-family="'Liberation Sans', sans-serif" font-size="7.8" font-weight="normal" fill="#1a1a1a">3</text>
<text x="227.55" y="555.00" font-family="'Liberation Sans', sans-serif" font-size="10" font-weight="normal" fill="#1a1a1a" textLength="11.15" lengthAdjust="spacingAndGlyphs">10</text>
<text x="238.42" y="550.50" font-family="'Liberation Sans', sans-serif" font-size="7.8" font-weight="normal" fill="#1a1a1a">4</text>
<g transform="translate(53.8,545.6) rotate(-90)">
<text x="-0.64" y="0.00" font-family="'Liberation Sans', sans-serif" font-size="8.5" font-weight="normal" fill="#999" textLength="9.48" lengthAdjust="spacingAndGlyphs">10</text>
<text x="8.72" y="-4.00" font-family="'Liberation Sans', sans-serif" font-size="7" font-weight="normal" fill="#999">0</text>
</g>
<g transform="translate(53.8,504.1) rotate(-90)">
<text x="-0.64" y="0.00" font-family="'Liberation Sans', sans-serif" font-size="8.5" font-weight="normal" fill="#999" textLength="9.48" lengthAdjust="spacingAndGlyphs">10</text>
<text x="8.47" y="-4.00" font-family="'Liberation Sans', sans-serif" font-size="7" font-weight="normal" fill="#999">1</text>
</g>
<g transform="translate(53.8,462.5) rotate(-90)">
<text x="-0.64" y="0.00" font-family="'Liberation Sans', sans-serif" font-size="8.5" font-weight="normal" fill="#999" textLength="9.48" lengthAdjust="spacingAndGlyphs">10</text>
<text x="8.65" y="-4.00" font-family="'Liberation Sans', sans-serif" font-size="7" font-weight="normal" fill="#999">2</text>
</g>
<g transform="translate(53.8,420.9) rotate(-90)">
<text x="-0.64" y="0.00" font-family="'Liberation Sans', sans-serif" font-size="8.5" font-weight="normal" fill="#999" textLength="9.48" lengthAdjust="spacingAndGlyphs">10</text>
<text x="8.74" y="-4.00" font-family="'Liberation Sans', sans-serif" font-size="7" font-weight="normal" fill="#999">3</text>
</g>
<g transform="translate(53.8,379.4) rotate(-90)">
<text x="-0.64" y="0.00" font-family="'Liberation Sans', sans-serif" font-size="8.5" font-weight="normal" fill="#999" textLength="9.48" lengthAdjust="spacingAndGlyphs">10</text>
<text x="8.84" y="-4.00" font-family="'Liberation Sans', sans-serif" font-size="7" font-weight="normal" fill="#999">4</text>
</g>
<text x="117.23" y="582.70" font-family="'Liberation Serif', serif" font-size="19" font-weight="normal" fill="#000" textLength="36.34" lengthAdjust="spacingAndGlyphs">CD4</text>
<text x="51.24" y="614.70" font-family="'Liberation Serif', serif" font-size="19" font-weight="normal" fill="#000" textLength="79.62" lengthAdjust="spacingAndGlyphs">Cell sorter</text>
<rect x="156.7" y="589" width="6.6" height="37.5" fill="#000"/>
<polygon points="151.00,625.90 168.80,625.90 159.90,643.00" fill="#000"/>
<g transform="translate(250,580.5) rotate(42.1)">
<rect x="0" y="-2.9" width="99" height="5.8" fill="#000"/>
<polygon points="97.5,-7.3 111.5,0 97.5,7.3" fill="#000"/>
</g>
<g transform="translate(296.5,603.5) rotate(46)">
<text x="-36.38" y="0.00" font-family="'Liberation Serif', serif" font-size="19" font-weight="normal" fill="#000" textLength="72.77" lengthAdjust="spacingAndGlyphs">mAbMag</text>
</g>
<text x="-0.35" y="659.50" font-family="'Liberation Serif', serif" font-size="26" font-weight="bold" fill="#000" textLength="20.55" lengthAdjust="spacingAndGlyphs">C</text>
<line x1="80.60" y1="671.00" x2="80.60" y2="813.80" stroke="#000" stroke-width="1.3"/>
<line x1="76.60" y1="811.20" x2="295.80" y2="811.20" stroke="#000" stroke-width="1.3"/>
<line x1="76.60" y1="690.70" x2="80.60" y2="690.70" stroke="#000" stroke-width="1.2"/>
<line x1="76.60" y1="710.80" x2="80.60" y2="710.80" stroke="#000" stroke-width="1.2"/>
<line x1="76.60" y1="730.90" x2="80.60" y2="730.90" stroke="#000" stroke-width="1.2"/>
<line x1="76.60" y1="750.90" x2="80.60" y2="750.90" stroke="#000" stroke-width="1.2"/>
<line x1="76.60" y1="771.00" x2="80.60" y2="771.00" stroke="#000" stroke-width="1.2"/>
<line x1="76.60" y1="791.20" x2="80.60" y2="791.20" stroke="#000" stroke-width="1.2"/>
<line x1="129.50" y1="811.20" x2="129.50" y2="814.40" stroke="#000" stroke-width="1.1"/>
<line x1="139.20" y1="811.20" x2="139.20" y2="814.40" stroke="#000" stroke-width="1.1"/>
<line x1="198.20" y1="811.20" x2="198.20" y2="814.40" stroke="#000" stroke-width="1.1"/>
<line x1="267.50" y1="811.20" x2="267.50" y2="814.40" stroke="#000" stroke-width="1.1"/>
<text x="57.17" y="720.00" font-family="'Liberation Serif', serif" font-size="19" font-weight="normal" fill="#000" textLength="19.56" lengthAdjust="spacingAndGlyphs">30</text>
<text x="56.03" y="765.90" font-family="'Liberation Serif', serif" font-size="19" font-weight="normal" fill="#000" textLength="17.99" lengthAdjust="spacingAndGlyphs">15</text>
<text x="65.29" y="824.10" font-family="'Liberation Serif', serif" font-size="19" font-weight="normal" fill="#000" textLength="9.53" lengthAdjust="spacingAndGlyphs">0</text>
<rect x="90.30" y="703.00" width="29.40" height="108.20" fill="#000"/>
<rect x="149.70" y="776.50" width="28.60" height="34.70" fill="#000"/>
<rect x="219.00" y="711.50" width="28.70" height="99.70" fill="#000"/>
<line x1="104.70" y1="703.00" x2="104.70" y2="700.80" stroke="#000" stroke-width="1.3"/>
<line x1="101.30" y1="700.80" x2="108.00" y2="700.80" stroke="#000" stroke-width="1.7"/>
<line x1="164.10" y1="776.50" x2="164.10" y2="775.00" stroke="#000" stroke-width="1.3"/>
<line x1="160.20" y1="775.00" x2="168.00" y2="775.00" stroke="#000" stroke-width="1.6"/>
<line x1="232.90" y1="711.50" x2="232.90" y2="705.30" stroke="#000" stroke-width="1.4"/>
<line x1="229.70" y1="705.30" x2="236.70" y2="705.30" stroke="#000" stroke-width="1.7"/>
<polyline points="109.1,669.5 109.1,662.4 241.6,662.4 241.6,683.5" fill="none" stroke="#000" stroke-width="1.4"/>
<polyline points="108.8,698 108.8,685.1 165.3,685.1 165.3,728.5" fill="none" stroke="#000" stroke-width="1.4"/>
<text x="135.83" y="708.45" font-family="'Liberation Serif', serif" font-size="19" font-weight="normal" fill="#000" textLength="8.70" lengthAdjust="spacingAndGlyphs">*</text>
<text x="167.87" y="658.00" font-family="'Liberation Serif', serif" font-size="19" font-weight="normal" fill="#000" textLength="24.82" lengthAdjust="spacingAndGlyphs">NS</text>
<g transform="translate(42,771.6) rotate(-90)">
<text x="-0.69" y="0.00" font-family="'Liberation Serif', serif" font-size="19" font-weight="normal" fill="#000" textLength="68.26" lengthAdjust="spacingAndGlyphs">cpm x 10</text>
<text x="69.10" y="-5.10" font-family="'Liberation Serif', serif" font-size="12.5" font-weight="normal" fill="#000" textLength="11.14" lengthAdjust="spacingAndGlyphs">-3</text>
</g>
<g transform="translate(74.50,874.80) rotate(-55)">
<text x="-0.50" y="0.00" font-family="'Liberation Serif', serif" font-size="18.3" font-weight="normal" fill="#000">No CD4</text>
</g>
<g transform="translate(119.00,891.00) rotate(-53)">
<text x="-0.76" y="0.00" font-family="'Liberation Serif', serif" font-size="19" font-weight="normal" fill="#000">CD25 high</text>
</g>
<g transform="translate(192.50,893.00) rotate(-53)">
<text x="-0.76" y="0.00" font-family="'Liberation Serif', serif" font-size="19" font-weight="normal" fill="#000">CD25 low</text>
</g>
<line x1="384.30" y1="672.00" x2="384.30" y2="814.90" stroke="#000" stroke-width="1.3"/>
<line x1="380.10" y1="812.00" x2="600.00" y2="812.00" stroke="#000" stroke-width="1.3"/>
<line x1="380.50" y1="691.40" x2="384.30" y2="691.40" stroke="#000" stroke-width="1.2"/>
<line x1="380.50" y1="711.40" x2="384.30" y2="711.40" stroke="#000" stroke-width="1.2"/>
<line x1="380.50" y1="731.40" x2="384.30" y2="731.40" stroke="#000" stroke-width="1.2"/>
<line x1="380.50" y1="752.20" x2="384.30" y2="752.20" stroke="#000" stroke-width="1.2"/>
<line x1="380.50" y1="771.50" x2="384.30" y2="771.50" stroke="#000" stroke-width="1.2"/>
<line x1="380.50" y1="792.40" x2="384.30" y2="792.40" stroke="#000" stroke-width="1.2"/>
<line x1="433.50" y1="812.00" x2="433.50" y2="815.00" stroke="#000" stroke-width="1.1"/>
<line x1="443.25" y1="812.00" x2="443.25" y2="815.00" stroke="#000" stroke-width="1.1"/>
<line x1="502.20" y1="812.00" x2="502.20" y2="815.00" stroke="#000" stroke-width="1.1"/>
<line x1="571.20" y1="812.00" x2="571.20" y2="815.00" stroke="#000" stroke-width="1.1"/>
<text x="361.48" y="720.80" font-family="'Liberation Serif', serif" font-size="19" font-weight="normal" fill="#000" textLength="19.34" lengthAdjust="spacingAndGlyphs">30</text>
<text x="360.15" y="767.00" font-family="'Liberation Serif', serif" font-size="19" font-weight="normal" fill="#000" textLength="17.77" lengthAdjust="spacingAndGlyphs">15</text>
<text x="368.86" y="824.70" font-family="'Liberation Serif', serif" font-size="19" font-weight="normal" fill="#000" textLength="9.88" lengthAdjust="spacingAndGlyphs">0</text>
<rect x="394.30" y="713.70" width="28.70" height="98.30" fill="#000"/>
<rect x="453.60" y="787.00" width="27.90" height="24.80" fill="#000"/>
<rect x="527.40" y="703.00" width="28.50" height="108.80" fill="#000"/>
<line x1="409.00" y1="713.70" x2="409.00" y2="702.00" stroke="#000" stroke-width="1.4"/>
<line x1="405.00" y1="702.00" x2="412.00" y2="702.00" stroke="#000" stroke-width="1.7"/>
<line x1="466.50" y1="787.00" x2="466.50" y2="784.00" stroke="#000" stroke-width="1.3"/>
<line x1="462.50" y1="784.00" x2="470.50" y2="784.00" stroke="#000" stroke-width="1.4"/>
<line x1="541.50" y1="703.00" x2="541.50" y2="695.80" stroke="#000" stroke-width="1.3"/>
<line x1="538.00" y1="695.80" x2="545.00" y2="695.80" stroke="#000" stroke-width="1.4"/>
<polyline points="412.9,670.3 412.9,663.3 545.4,663.3 545.4,685" fill="none" stroke="#000" stroke-width="1.5"/>
<polyline points="414.2,701 414.2,685.7 469.1,685.7 469.1,729" fill="none" stroke="#000" stroke-width="1.4"/>
<text x="439.09" y="708.75" font-family="'Liberation Serif', serif" font-size="19" font-weight="normal" fill="#000" textLength="9.07" lengthAdjust="spacingAndGlyphs">*</text>
<text x="483.97" y="652.60" font-family="'Liberation Serif', serif" font-size="19" font-weight="normal" fill="#000" textLength="24.82" lengthAdjust="spacingAndGlyphs">NS</text>
<g transform="translate(342,774.8) rotate(-90)">
<text x="-0.70" y="0.00" font-family="'Liberation Serif', serif" font-size="19" font-weight="normal" fill="#000" textLength="69.18" lengthAdjust="spacingAndGlyphs">cpm x 10</text>
<text x="70.02" y="-5.50" font-family="'Liberation Serif', serif" font-size="12.5" font-weight="normal" fill="#000" textLength="10.59" lengthAdjust="spacingAndGlyphs">-3</text>
</g>
<g transform="translate(377.00,876.50) rotate(-53)">
<text x="-0.76" y="0.00" font-family="'Liberation Serif', serif" font-size="19" font-weight="normal" fill="#000">Control</text>
</g>
<g transform="translate(398.50,917.50) rotate(-53)">
<text x="-0.76" y="0.00" font-family="'Liberation Serif', serif" font-size="19" font-weight="normal" fill="#000">CD4+CD25 +</text>
</g>
<g transform="translate(478.50,915.50) rotate(-53)">
<text x="-0.76" y="0.00" font-family="'Liberation Serif', serif" font-size="19" font-weight="normal" fill="#000">CD+ CD25-</text>
</g>
<text x="-0.48" y="940.70" font-family="'Liberation Serif', serif" font-size="26" font-weight="bold" fill="#000" textLength="19.85" lengthAdjust="spacingAndGlyphs">D</text>
<line x1="85.90" y1="928.00" x2="85.90" y2="1159.30" stroke="#000" stroke-width="1.3"/>
<line x1="80.00" y1="1154.50" x2="304.00" y2="1154.50" stroke="#000" stroke-width="1.3"/>
<line x1="82.30" y1="1154.30" x2="85.90" y2="1154.30" stroke="#000" stroke-width="1.2"/>
<line x1="82.30" y1="1115.10" x2="85.90" y2="1115.10" stroke="#000" stroke-width="1.2"/>
<line x1="82.30" y1="1075.90" x2="85.90" y2="1075.90" stroke="#000" stroke-width="1.2"/>
<line x1="82.30" y1="1036.70" x2="85.90" y2="1036.70" stroke="#000" stroke-width="1.2"/>
<line x1="82.30" y1="997.50" x2="85.90" y2="997.50" stroke="#000" stroke-width="1.2"/>
<line x1="82.30" y1="958.30" x2="85.90" y2="958.30" stroke="#000" stroke-width="1.2"/>
<text x="61.79" y="966.30" font-family="'Liberation Serif', serif" font-size="18" font-weight="normal" fill="#000" textLength="19.07" lengthAdjust="spacingAndGlyphs">25</text>
<text x="61.79" y="1005.70" font-family="'Liberation Serif', serif" font-size="18" font-weight="normal" fill="#000" textLength="19.02" lengthAdjust="spacingAndGlyphs">20</text>
<text x="63.39" y="1044.50" font-family="'Liberation Serif', serif" font-size="18" font-weight="normal" fill="#000" textLength="17.31" lengthAdjust="spacingAndGlyphs">15</text>
<text x="63.39" y="1083.50" font-family="'Liberation Serif', serif" font-size="18" font-weight="normal" fill="#000" textLength="17.26" lengthAdjust="spacingAndGlyphs">10</text>
<text x="68.20" y="1123.70" font-family="'Liberation Serif', serif" font-size="18" font-weight="normal" fill="#000" textLength="9.57" lengthAdjust="spacingAndGlyphs">5</text>
<text x="71.97" y="1163.30" font-family="'Liberation Serif', serif" font-size="18" font-weight="normal" fill="#000" textLength="9.76" lengthAdjust="spacingAndGlyphs">0</text>
<rect x="94.00" y="1028.80" width="56.00" height="125.50" fill="#000"/>
<rect x="158.50" y="1102.50" width="55.50" height="52.00" fill="#fff" stroke="#000" stroke-width="1.2"/>
<rect x="241.20" y="1104.00" width="56.80" height="50.50" fill="#000"/>
<line x1="121.50" y1="1028.80" x2="121.50" y2="978.80" stroke="#000" stroke-width="1.2"/>
<line x1="118.80" y1="978.80" x2="124.80" y2="978.80" stroke="#000" stroke-width="1.3"/>
<line x1="186.00" y1="1102.00" x2="186.00" y2="1087.20" stroke="#000" stroke-width="1.2"/>
<line x1="183.20" y1="1087.20" x2="188.80" y2="1087.20" stroke="#000" stroke-width="1.3"/>
<line x1="268.80" y1="1104.00" x2="268.80" y2="1079.20" stroke="#000" stroke-width="1.2"/>
<line x1="266.00" y1="1079.20" x2="273.20" y2="1079.20" stroke="#000" stroke-width="1.3"/>
<polyline points="129.6,984 129.6,964.7 185.3,964.7 185.3,1022" fill="none" stroke="#000" stroke-width="1.4"/>
<text x="155.79" y="986.75" font-family="'Liberation Serif', serif" font-size="19" font-weight="normal" fill="#000" textLength="9.07" lengthAdjust="spacingAndGlyphs">*</text>
<line x1="88.80" y1="1174.00" x2="220.80" y2="1174.00" stroke="#000" stroke-width="1.3"/>
<line x1="243.20" y1="1174.00" x2="306.00" y2="1174.00" stroke="#000" stroke-width="1.3"/>
<text x="130.22" y="1199.00" font-family="'Liberation Serif', serif" font-size="19" font-weight="normal" fill="#000" textLength="43.06" lengthAdjust="spacingAndGlyphs">GIST</text>
<text x="255.07" y="1199.00" font-family="'Liberation Serif', serif" font-size="19" font-weight="normal" fill="#000" textLength="27.76" lengthAdjust="spacingAndGlyphs">NV</text>
<rect x="214.00" y="932.30" width="14.30" height="12.70" fill="#000"/>
<rect x="214.60" y="953.90" width="13.10" height="11.50" fill="#fff" stroke="#000" stroke-width="1.2"/>
<text x="243.48" y="946.00" font-family="'Liberation Serif', serif" font-size="19" font-weight="normal" fill="#000" textLength="130.78" lengthAdjust="spacingAndGlyphs">No NK induction</text>
<text x="243.48" y="966.00" font-family="'Liberation Serif', serif" font-size="19" font-weight="normal" fill="#000" textLength="103.49" lengthAdjust="spacingAndGlyphs">NK induction</text>
<g transform="translate(50.5,1147.75) rotate(-90)">
<text x="-0.33" y="0.00" font-family="'Liberation Serif', serif" font-size="18.5" font-weight="normal" fill="#000" textLength="186.38" lengthAdjust="spacingAndGlyphs"># CD4+ CD25 high /mm</text>
<text x="187.14" y="-5.70" font-family="'Liberation Serif', serif" font-size="13" font-weight="normal" fill="#000" textLength="6.42" lengthAdjust="spacingAndGlyphs">3</text>
</g>
</svg></body></html>
